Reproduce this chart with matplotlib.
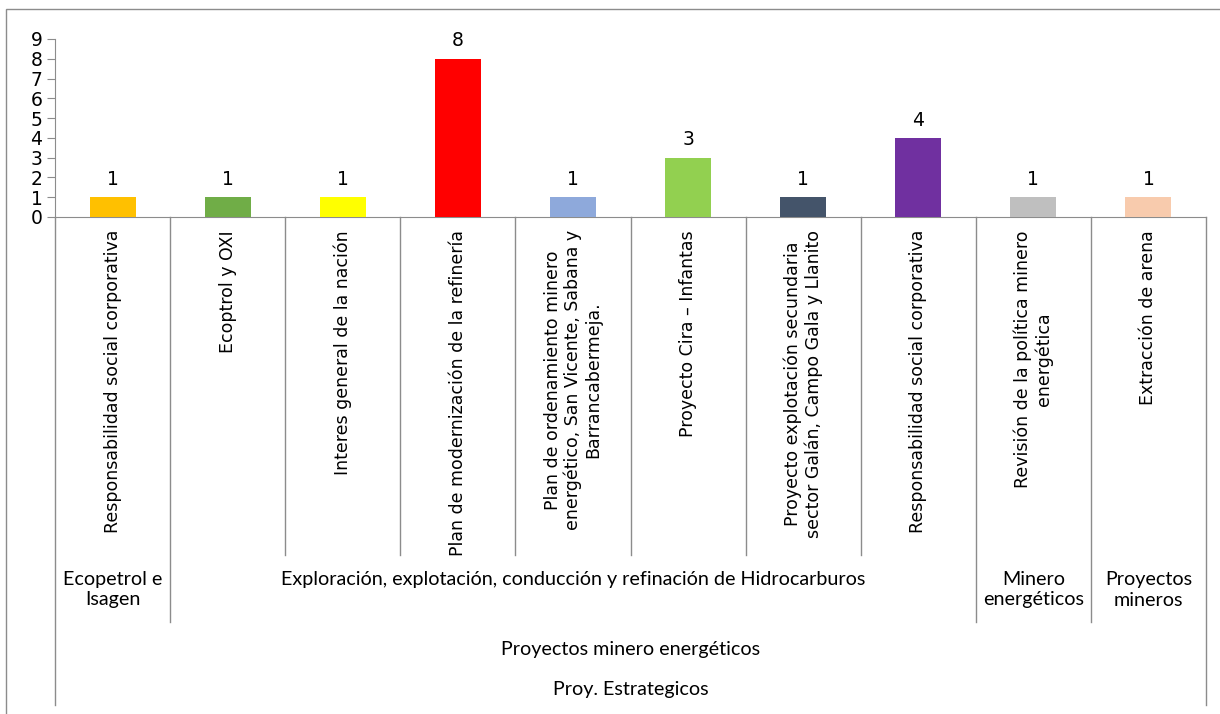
import numpy as np
import matplotlib.pyplot as plt
from matplotlib.lines import Line2D
from matplotlib.patches import Rectangle
from matplotlib.transforms import blended_transform_factory

plt.rcParams['font.family'] = ['DejaVu Sans']

# datos
proyectos = ['Responsabilidad social corporativa',
             'Ecoptrol y OXI',
             'Interes general de la nación',
             'Plan de modernización de la refinería',
             'Plan de ordenamiento minero\nenergético, San Vicente, Sabana y\nBarrancabermeja.',
             'Proyecto Cira – Infantas',
             'Proyecto explotación secundaria\nsector Galán, Campo Gala y Llanito',
             'Responsabilidad social corporativa',
             'Revisión de la política minero\nenergética',
             'Extracción de arena']
valores = [1, 1, 1, 8, 1, 3, 1, 4, 1, 1]
colores = ['#FFC000', '#70AD47', '#FFFF00', '#FF0000', '#8EA9DB',
           '#92D050', '#44546A', '#7030A0', '#BFBFBF', '#F8CBAD']
grupos = ['Ecopetrol e\nIsagen',
          'Exploración, explotación, conducción y refinación de Hidrocarburos',
          'Minero\nenergéticos',
          'Proyectos\nmineros']
tam_grupos = [1, 7, 1, 1]
nivel3 = 'Proyectos minero energéticos'
nivel4 = 'Proy. Estrategicos'

W, H = 1220, 714
gris = '#8c8c8c'

fig = plt.figure(figsize=(W / 100, H / 100), dpi=100)
ax = fig.add_axes([55 / W, 1 - 217 / H, 1151 / W, 178 / H])

x = np.arange(len(valores))
barras = ax.bar(x, valores, width=0.4, color=colores, zorder=3)
ax.bar_label(barras, padding=6, fontsize=13.5)

ax.set_xlim(-0.5, len(valores) - 0.5)
ax.set_ylim(0, 9)
ax.set_yticks(range(10))
ax.set_xticks([])
ax.tick_params(axis='y', length=6, color=gris, labelsize=13.5, pad=3)
for s in ['top', 'right']:
    ax.spines[s].set_visible(False)
ax.spines['left'].set_color(gris)
ax.spines['bottom'].set_color(gris)

trans = blended_transform_factory(ax.transData, fig.transFigure)


def fy(p):
    return 1 - p / H


# separadores de categorias
limites_grupo = np.cumsum([0] + tam_grupos)
for i in range(len(valores) + 1):
    if i == 0 or i == len(valores):
        fondo = 705
    elif i in limites_grupo:
        fondo = 622
    else:
        fondo = 555
    b = i - 0.5
    fig.add_artist(Line2D([b, b], [fy(217), fy(fondo)], transform=trans,
                          color=gris, lw=1))

# etiquetas nivel 1
for i, nombre in enumerate(proyectos):
    ax.text(i, fy(230), nombre, transform=trans, rotation=90, ha='center',
            va='top', multialignment='center', fontsize=12.5, linespacing=1.15)

# etiquetas nivel 2
for ini, n, nombre in zip(limites_grupo[:-1], tam_grupos, grupos):
    ax.text(ini + (n - 1) / 2, fy(571), nombre, transform=trans, ha='center',
            va='top', family='Lato', fontsize=14.2, linespacing=1.25)

centro = (len(valores) - 1) / 2
ax.text(centro, fy(650), nivel3, transform=trans, ha='center', va='center',
        family='Lato', fontsize=14.2)
ax.text(centro, fy(690), nivel4, transform=trans, ha='center', va='center',
        family='Lato', fontsize=14.2)

# borde exterior
fig.add_artist(Rectangle((6 / W, -0.05), 1.1, fy(9) + 0.05,
                         transform=fig.transFigure, fill=False, ec=gris, lw=1))

fig.savefig('out.png', dpi=100)
